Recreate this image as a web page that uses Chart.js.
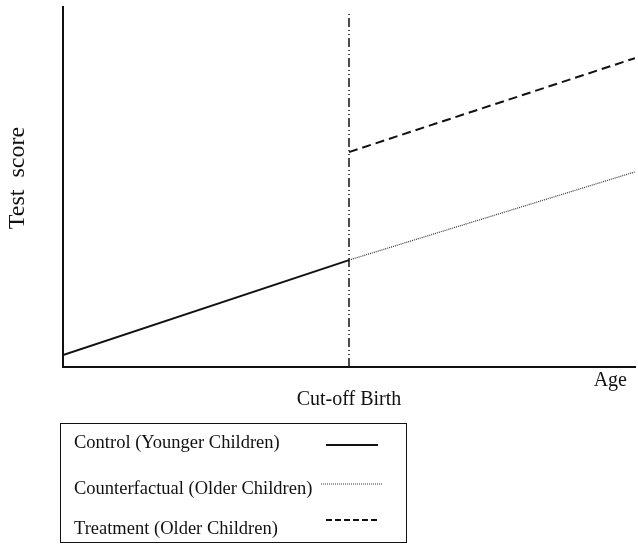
<!DOCTYPE html>
<html>
<head>
<meta charset="utf-8">
<script src="https://cdn.jsdelivr.net/npm/chart.js@4.4.1/dist/chart.umd.min.js"></script>
<style>
  body { margin: 0; background: #fff; }
  #wrap { position: relative; width: 638px; height: 546px; }
  #legend {
    position: absolute; left: 60px; top: 423px; width: 345px; height: 118px;
    border: 1.5px solid #111; font-family: "Liberation Serif", "Times New Roman", serif;
    font-size: 18.5px; color: #111;
  }
  .row { position: absolute; left: 13px; white-space: nowrap; }
  #legend svg { position: absolute; }
</style>
</head>
<body>
<div id="wrap">
  <canvas id="chart" width="638" height="546"></canvas>
  <div id="legend"></div>
</div>
<script>
// x = age (cut-off at 50), y = test score, both on a 0-100 schematic scale
const controlAge = [0, 50];
const controlScore = [3.3, 29.7];
const counterAge = [50, 100];
const counterScore = [29.7, 54.2];
const treatAge = [50, 100];
const treatScore = [59.7, 85.8];
const cutoffAge = [50, 50];
const cutoffScore = [0, 98.3];

const pts = (xs, ys) => xs.map((x, i) => ({ x: x, y: ys[i] }));
const ink = "#111";
const font = "'Liberation Serif', 'Times New Roman', serif";

const data = {
  datasets: [
    { label: "Control (Younger Children)", data: pts(controlAge, controlScore),
      borderColor: ink, borderWidth: 2, borderDash: [] },
    { label: "Counterfactual (Older Children)", data: pts(counterAge, counterScore),
      borderColor: "#333", borderWidth: 1.2, borderDash: [1, 1] },
    { label: "Treatment (Older Children)", data: pts(treatAge, treatScore),
      borderColor: ink, borderWidth: 2, borderDash: [9, 5] },
    { label: "cutoff", data: pts(cutoffAge, cutoffScore),
      borderColor: ink, borderWidth: 1.5, borderDash: [9, 3, 1, 3, 1, 3] },
  ],
};

// axis words that sit outside the scale titles
const axisWords = {
  id: "axisWords",
  afterDraw(chart) {
    const { ctx, chartArea } = chart;
    ctx.save();
    ctx.fillStyle = ink;
    ctx.textBaseline = "middle";
    ctx.font = "20px " + font;
    ctx.textAlign = "right";
    ctx.fillText("Age", chartArea.right - 8, chartArea.bottom + 14);
    ctx.font = "24px " + font;
    ctx.textAlign = "center";
    ctx.translate(18, 178);
    ctx.rotate(-Math.PI / 2);
    ctx.fillText("Test  score", 0, 0);
    ctx.restore();
  },
};

const config = {
  type: "scatter",
  data: data,
  options: {
    responsive: false,
    animation: false,
    showLine: true,
    pointRadius: 0,
    layout: { padding: { top: 7, right: 3, left: 63, bottom: 134 } },
    plugins: { legend: { display: false }, tooltip: { enabled: false } },
    scales: {
      x: {
        min: 0, max: 100,
        grid: { display: false, drawTicks: false },
        ticks: { display: false },
        border: { display: true, color: ink, width: 2 },
        title: {
          display: true, text: "Cut-off Birth", color: ink,
          font: { family: font, size: 20, lineHeight: 1.2 },
          padding: { top: 21, bottom: 0 },
        },
      },
      y: {
        min: 0, max: 100,
        grid: { display: false, drawTicks: false },
        ticks: { display: false },
        border: { display: true, color: ink, width: 2 },
        afterFit(scale) { scale.width = 0; },
      },
    },
  },
  plugins: [axisWords],
};

const myChart = new Chart(document.getElementById("chart"), config);

// legend box below the plot, built from the datasets
const legendRows = [
  { top: 8, lineX: 265, lineW: 52, lineY: 20.5, dash: "" },
  { top: 54, lineX: 260, lineW: 62, lineY: 59.5, dash: "1 1" },
  { top: 94, lineX: 265, lineW: 52, lineY: 95.5, dash: "6 3" },
];
const legend = document.getElementById("legend");
data.datasets.slice(0, 3).forEach((ds, i) => {
  const r = legendRows[i];
  const row = document.createElement("div");
  row.className = "row";
  row.style.top = r.top + "px";
  row.textContent = ds.label;
  legend.appendChild(row);
  const svg = document.createElementNS("http://www.w3.org/2000/svg", "svg");
  svg.setAttribute("width", r.lineW);
  svg.setAttribute("height", 10);
  svg.style.left = r.lineX + "px";
  svg.style.top = (r.lineY - 5) + "px";
  const ln = document.createElementNS("http://www.w3.org/2000/svg", "line");
  ln.setAttribute("x1", 0); ln.setAttribute("x2", r.lineW);
  ln.setAttribute("y1", 5); ln.setAttribute("y2", 5);
  ln.setAttribute("stroke", ds.borderColor);
  ln.setAttribute("stroke-width", ds.borderWidth);
  if (r.dash) ln.setAttribute("stroke-dasharray", r.dash);
  svg.appendChild(ln);
  legend.appendChild(svg);
});
</script>
</body>
</html>
